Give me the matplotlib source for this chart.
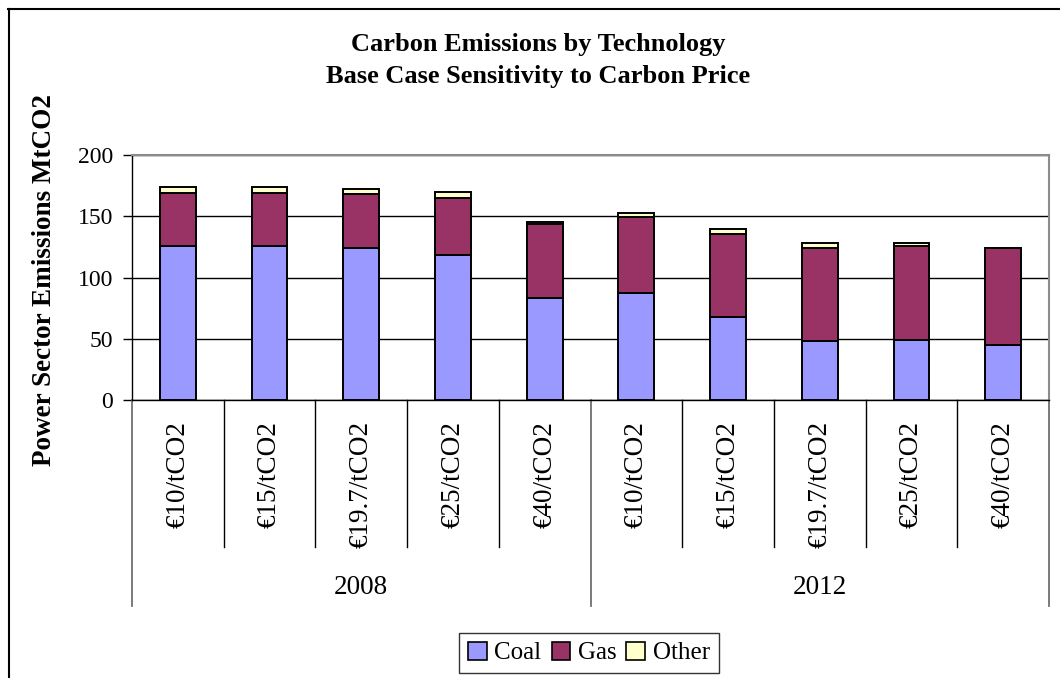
import matplotlib
matplotlib.use("Agg")
import matplotlib.pyplot as plt
from matplotlib.patches import Patch
from matplotlib.lines import Line2D

categories = ["€10/tCO2", "€15/tCO2", "€19.7/tCO2", "€25/tCO2", "€40/tCO2",
              "€10/tCO2", "€15/tCO2", "€19.7/tCO2", "€25/tCO2", "€40/tCO2"]
groups = ["2008", "2012"]
coal = [125.7, 125.7, 124.1, 118.6, 83.3, 87.3, 67.8, 48.2, 49.0, 44.9]
gas = [43.6, 43.6, 43.8, 46.6, 60.6, 62.4, 67.7, 75.9, 76.7, 79.2]
other = [4.6, 4.6, 4.6, 4.3, 1.7, 3.0, 4.1, 4.3, 2.7, 0.1]
series_names = ["Coal", "Gas", "Other"]
colors = ["#9999FF", "#993366", "#FFFFCC"]

plt.rcParams['font.family'] = ['Liberation Serif', 'DejaVu Serif']

W, H = 1060, 678
fig = plt.figure(figsize=(W / 100, H / 100), dpi=100)
fig.patch.set_facecolor("white")

# outer frame (top and left visible)
fig.add_artist(Line2D([8 / W, 1.0], [1 - 9 / H, 1 - 9 / H], color="black", lw=1.5, transform=fig.transFigure))
fig.add_artist(Line2D([8.5 / W, 8.5 / W], [0, 1 - 9 / H], color="black", lw=1.5, transform=fig.transFigure))

left, right, top, bottom = 132, 1049, 155, 400
ax = fig.add_axes([left / W, (H - bottom) / H, (right - left) / W, (bottom - top) / H])

n = len(categories)
xs = [i + 0.5 for i in range(n)]
bw = 0.39
b2 = [c + g for c, g in zip(coal, gas)]
ax.bar(xs, coal, bw, color=colors[0], edgecolor="black", lw=1.4, zorder=3)
ax.bar(xs, gas, bw, bottom=coal, color=colors[1], edgecolor="black", lw=1.4, zorder=3)
ax.bar(xs, other, bw, bottom=b2, color=colors[2], edgecolor="black", lw=1.4, zorder=3)

ax.set_xlim(0, n)
ax.set_ylim(0, 200)
ax.set_yticks([0, 50, 100, 150, 200])
ax.yaxis.grid(True, color="black", lw=1.0, zorder=0)
ax.set_axisbelow(True)
ax.tick_params(axis="y", direction="out", length=6.5, width=1, labelsize=17, pad=7, colors="black")
ax.set_xticks([])
for s in ["top", "right"]:
    ax.spines[s].set_color("#8c8c8c")
    ax.spines[s].set_linewidth(1.5)
ax.spines["left"].set_color("black")
ax.spines["bottom"].set_color("black")
ax.spines["left"].set_linewidth(1.0)
ax.spines["bottom"].set_linewidth(1.0)

tr = ax.get_xaxis_transform()
ph = bottom - top
y_cat = -(547 - bottom) / ph
y_grp = -(606 - bottom) / ph
for i in range(1, n):
    if i % 5 != 0:
        ax.add_line(Line2D([i, i], [0, y_cat], color="black", lw=1.0, transform=tr, clip_on=False))
for i in [0, 5, 10]:
    ax.add_line(Line2D([i, i], [0, y_grp], color="#707070", lw=1.3, transform=tr, clip_on=False))

for x, lab in zip(xs, categories):
    ax.text(x, -(421 - bottom) / ph, lab, rotation=90, ha="center", va="top",
            fontsize=19.5, transform=tr)
for gi, g in enumerate(groups):
    ax.text(gi * 5 + 2.5, -(588 - bottom) / ph, g, ha="center", va="center",
            fontsize=19.5, transform=tr)

fig.text(538 / W, 1 - 45 / H, "Carbon Emissions by Technology", ha="center", va="center",
         fontsize=19, fontweight="bold")
fig.text(538 / W, 1 - 77 / H, "Base Case Sensitivity to Carbon Price", ha="center", va="center",
         fontsize=19, fontweight="bold")
fig.text(45 / W, 1 - 280 / H, "Power Sector Emissions MtCO2", rotation=90, ha="center", va="center",
         fontsize=19.5, fontweight="bold")

handles = [Patch(facecolor=c, edgecolor="black", lw=1.2) for c in colors]
leg = fig.legend(handles, series_names, loc="center", bbox_to_anchor=(589 / W, 1 - 653 / H),
                 ncol=3, fontsize=18, frameon=True, fancybox=False, edgecolor="black",
                 handlelength=0.75, handleheight=0.75, handletextpad=0.3, columnspacing=0.4,
                 borderpad=0.35, borderaxespad=0)
leg.get_frame().set_linewidth(1.0)

fig.savefig("out.png", dpi=100)
